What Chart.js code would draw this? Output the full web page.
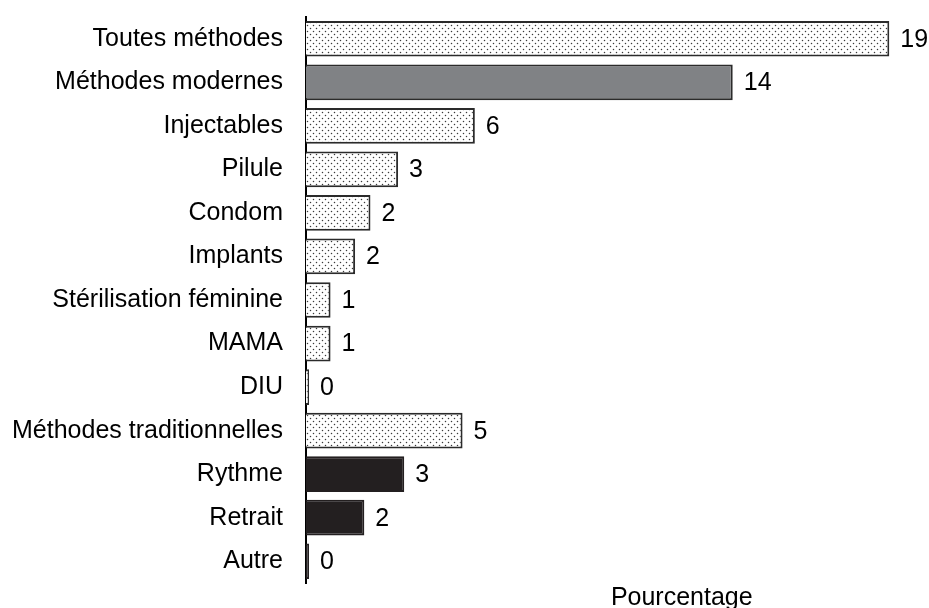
<!DOCTYPE html>
<html>
<head>
<meta charset="utf-8">
<script src="https://cdn.jsdelivr.net/npm/chart.js@4/dist/chart.umd.min.js"></script>
<style>
  html, body { margin:0; padding:0; background:#fff; }
  #wrap { width:929px; height:608px; }
</style>
</head>
<body>
<div id="wrap"><canvas id="chartMethods" width="929" height="608"></canvas></div>
<script>
// ── data ─────────────────────────────────────────────────────────────────────
const categories = [
  'Toutes méthodes', 'Méthodes modernes', 'Injectables', 'Pilule', 'Condom',
  'Implants', 'Stérilisation féminine', 'MAMA', 'DIU',
  'Méthodes traditionnelles', 'Rythme', 'Retrait', 'Autre'
];
const values      = [19.0, 13.9, 5.5, 3.0, 2.1, 1.6, 0.8, 0.8, 0.1, 5.1, 3.2, 1.9, 0.1];
const valueLabels = ['19', '14', '6', '3', '2', '2', '1', '1', '0', '5', '3', '2', '0'];
// kind of fill per bar: dots / grey / black
const fillKinds   = ['dots', 'grey', 'dots', 'dots', 'dots', 'dots', 'dots', 'dots', 'dots',
                     'dots', 'black', 'black', 'black'];
const xMax = 20;
const axisTitle = 'Pourcentage';

const FONT = '"Liberation Sans", Arial, sans-serif';

// dotted fill, like the stippled bars of the original
function dotPattern() {
  const c = document.createElement('canvas');
  c.width = 6; c.height = 6;
  const g = c.getContext('2d');
  g.fillStyle = '#ffffff';
  g.fillRect(0, 0, 6, 6);
  g.fillStyle = '#3a3a3a';
  [[1.5, 1.5], [4.5, 4.5]].forEach(([x, y]) => {
    g.beginPath();
    g.arc(x, y, 0.75, 0, Math.PI * 2);
    g.fill();
  });
  return g.createPattern(c, 'repeat');
}

const ctx = document.getElementById('chartMethods');
const dots = dotPattern();
const fills = fillKinds.map(k => k === 'dots' ? dots : (k === 'grey' ? '#808285' : '#231f20'));
const borders = fillKinds.map(k => k === 'black' ? '#231f20' : '#2b2b2b');

// value labels at the end of every bar + the axis caption
const barLabels = {
  id: 'barLabels',
  afterDatasetsDraw(chart) {
    const c = chart.ctx;
    const meta = chart.getDatasetMeta(0);
    c.save();
    c.font = '25px ' + FONT;
    c.fillStyle = '#000';
    c.textBaseline = 'middle';
    c.textAlign = 'left';
    meta.data.forEach((bar, i) => {
      c.fillText(valueLabels[i], bar.x + 11, bar.y + 1);
    });
    const a = chart.chartArea;
    c.textAlign = 'center';
    c.textBaseline = 'alphabetic';
    c.fillText(axisTitle, a.left + (a.right - a.left) * 0.612, chart.height - 3);
    c.restore();
  }
};

new Chart(ctx, {
  type: 'bar',
  data: {
    labels: categories,
    datasets: [{
      data: values,
      backgroundColor: fills,
      borderColor: borders,
      borderWidth: 2,
      borderSkipped: 'start',
      barPercentage: 0.82,
      categoryPercentage: 1
    }]
  },
  options: {
    responsive: false,
    animation: false,
    indexAxis: 'y',
    layout: { padding: { top: 17, right: 9, bottom: 25, left: 0 } },
    plugins: { legend: { display: false }, tooltip: { enabled: false } },
    scales: {
      x: { display: false, min: 0, max: xMax },
      y: {
        grid: { display: false },
        border: { display: true, color: '#000', width: 2 },
        ticks: { color: '#000', padding: 15, font: { family: FONT, size: 25 } },
        afterFit(scale) {
          scale.width = 306;
          scale.paddingTop = 0;
          scale.paddingBottom = 0;
        }
      }
    }
  },
  plugins: [barLabels]
});
</script>
</body>
</html>
